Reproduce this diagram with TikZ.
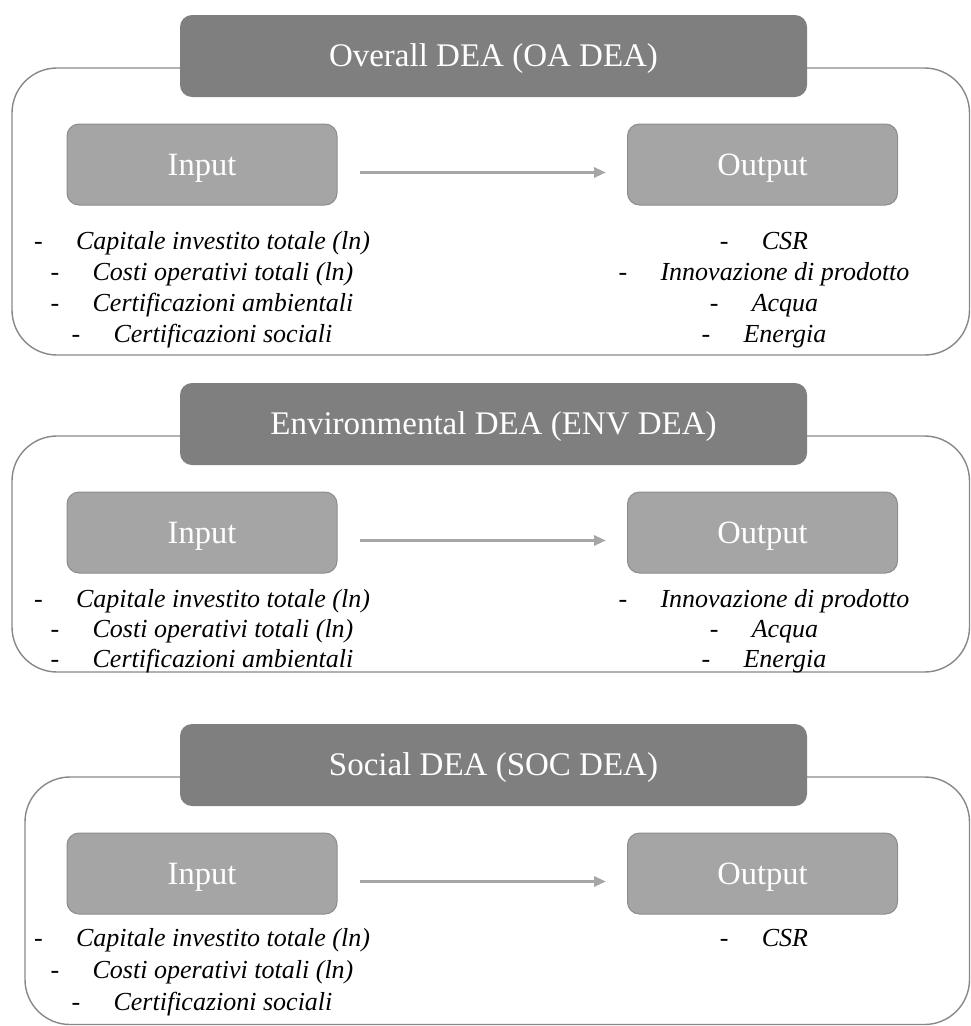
\documentclass[tikz,border=0pt]{standalone}
\usepackage{fontspec}
\setmainfont{Liberation Serif}
\usetikzlibrary{arrows.meta}
\definecolor{hdrgray}{HTML}{7F7F7F}
\definecolor{boxgray}{HTML}{A5A5A5}
\definecolor{boxborder}{HTML}{8C8C8C}
\definecolor{framegray}{HTML}{888888}
\definecolor{arrgray}{HTML}{A6A6A6}
\tikzset{
  frame/.style={draw=framegray, line width=1.4pt, rounded corners=45pt},
  header/.style={fill=hdrgray, rounded corners=12pt, minimum width=627pt, minimum height=82pt,
    text=white, font=\fontsize{33}{38}\selectfont, inner sep=0pt, text height=21.8pt, text depth=0pt},
  iobox/.style={fill=boxgray, draw=boxborder, line width=1pt, rounded corners=12pt,
    minimum width=270pt, minimum height=81pt, text=white, font=\fontsize{32.5}{38}\selectfont,
    inner sep=0pt, text height=21.5pt, text depth=0pt},
  item/.style={font=\fontsize{26}{31}\selectfont, text height=18pt, text depth=6pt, inner sep=0pt},
  arr/.style={draw=arrgray, line width=3pt, -{Triangle[length=12pt,width=10pt]}},
}
\newcommand{\itm}[1]{\makebox[42pt][l]{-}\textit{#1}}
\begin{document}
\begin{tikzpicture}[x=1pt,y=-1pt]
\useasboundingbox (0,0) rectangle (971,1026);
% ---------- Section 1 ----------
\draw[frame] (12,68) rectangle (969.5,355);
\node[header] (h1) at (493.5,56) {Overall DEA (OA DEA)};
\node[iobox] (in1) at (202,164.5) {Input};
\node[iobox] (out1) at (762.5,164.5) {Output};
\draw[arr] ([xshift=22pt,yshift=-8pt]in1.east) -- ([xshift=-21pt,yshift=-8pt]out1.west);
\node[item] (i1a) at (202,243) {\itm{Capitale investito totale (ln)}};
\node[item] (i1b) at (202,274) {\itm{Costi operativi totali (ln)}};
\node[item] (i1c) at (202,305) {\itm{Certificazioni ambientali}};
\node[item] (i1d) at (202,336) {\itm{Certificazioni sociali}};
\node[item] (o1a) at (764,243) {\itm{CSR}};
\node[item] (o1b) at (764,274) {\itm{Innovazione di prodotto}};
\node[item] (o1c) at (764,305) {\itm{Acqua}};
\node[item] (o1d) at (764,336) {\itm{Energia}};
% ---------- Section 2 ----------
\draw[frame] (12,436) rectangle (969.5,672);
\node[header] (h2) at (493.5,424) {Environmental DEA (ENV DEA)};
\node[iobox] (in2) at (202,532.5) {Input};
\node[iobox] (out2) at (762.5,532.5) {Output};
\draw[arr] ([xshift=22pt,yshift=-8pt]in2.east) -- ([xshift=-21pt,yshift=-8pt]out2.west);
\node[item] (i2a) at (202,601) {\itm{Capitale investito totale (ln)}};
\node[item] (i2b) at (202,631) {\itm{Costi operativi totali (ln)}};
\node[item] (i2c) at (202,661) {\itm{Certificazioni ambientali}};
\node[item] (o2a) at (764,601) {\itm{Innovazione di prodotto}};
\node[item] (o2b) at (764,631) {\itm{Acqua}};
\node[item] (o2c) at (764,661) {\itm{Energia}};
% ---------- Section 3 ----------
\draw[frame] (25,777) rectangle (969.5,1024.5);
\node[header] (h3) at (493.5,765) {Social DEA (SOC DEA)};
\node[iobox] (in3) at (202,873.5) {Input};
\node[iobox] (out3) at (762.5,873.5) {Output};
\draw[arr] ([xshift=22pt,yshift=-8pt]in3.east) -- ([xshift=-21pt,yshift=-8pt]out3.west);
\node[item] (i3a) at (202,940) {\itm{Capitale investito totale (ln)}};
\node[item] (i3b) at (202,972) {\itm{Costi operativi totali (ln)}};
\node[item] (i3c) at (202,1004) {\itm{Certificazioni sociali}};
\node[item] (o3a) at (764,940) {\itm{CSR}};
\end{tikzpicture}
\end{document}
